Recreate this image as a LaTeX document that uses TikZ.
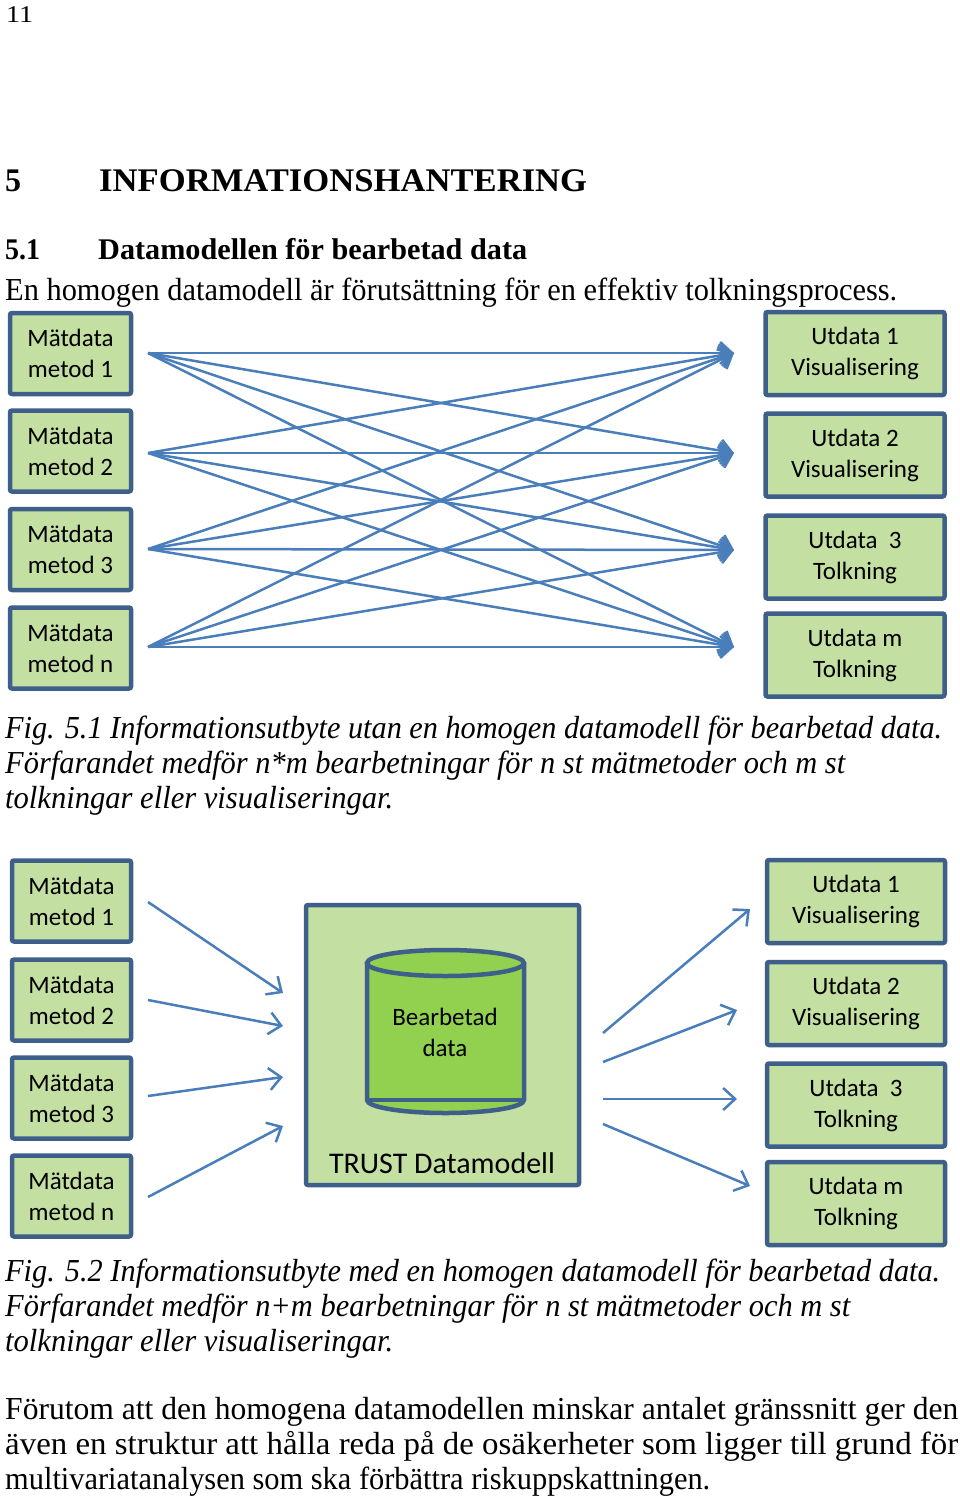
\documentclass[tikz,border=0pt]{standalone}
\usepackage{fontspec}
\usepackage{graphicx}
\setmainfont{Liberation Serif}
\newfontfamily\carlito{Carlito}
\usetikzlibrary{arrows.meta}

\definecolor{boxline}{HTML}{3E5F8A}
\definecolor{boxfill}{HTML}{C4DFA2}
\definecolor{dbfill}{HTML}{92D050}
\definecolor{arrowblue}{HTML}{4A7EBB}

% stretch a line of text to a given width, keep its height
\newcommand{\fitline}[2]{\resizebox{#1pt}{\height}{#2}}

\tikzset{
  box/.style={draw=boxline, line width=4.5pt, fill=boxfill, rounded corners=2pt,
    align=center, inner sep=0pt, font=\carlito\fontsize{25}{31}\selectfont},
  inbox/.style={box, minimum width=121pt, minimum height=81pt},
  outbox/.style={box, minimum width=179pt, minimum height=83pt},
  flow/.style={draw=arrowblue, line width=2.5pt,
    -{Straight Barb[length=12pt,width=22pt,line width=2.5pt]}},
  txt/.style={anchor=base west, inner sep=0pt, font=\fontsize{32}{32}\selectfont}
}

\begin{document}
\begin{tikzpicture}[x=1pt,y=-1pt]
        \useasboundingbox (0,0) rectangle (960,1498);

        % page head and section titles
        \node[txt, font=\fontsize{24}{24}\selectfont] (pagenr) at (6,23) {\fitline{27}{11}};
        \node[txt, font=\bfseries\fontsize{33}{33}\selectfont] (secnr) at (5,192) {\fitline{16}{5}};
        \node[txt, font=\bfseries\fontsize{33}{33}\selectfont] (sectitle) at (99,192) {\fitline{488}{INFORMATIONSHANTERING}};
        \node[txt, font=\bfseries\fontsize{30}{30}\selectfont] (subnr) at (5,259) {\fitline{35}{5.1}};
        \node[txt, font=\bfseries\fontsize{30}{30}\selectfont] (subtitle) at (98,259) {\fitline{429}{Datamodellen för bearbetad data}};
        \node[txt] (intro) at (5,300) {\fitline{892}{En homogen datamodell är förutsättning för en effektiv tolkningsprocess.}};

        % figure 5.1
        \node[inbox] (m1) at (70.5,353.5) {Mätdata\\metod 1};
        \node[inbox] (m2) at (70.5,451) {Mätdata\\metod 2};
        \node[inbox] (m3) at (70.5,549.5) {Mätdata\\metod 3};
        \node[inbox] (m4) at (70.5,648) {Mätdata\\metod n};

        \node[outbox] (u1) at (855,353.5) {Utdata 1\\Visualisering};
        \node[outbox] (u2) at (855,455) {Utdata 2\\Visualisering};
        \node[outbox] (u3) at (855,557) {Utdata\ \ 3\\Tolkning};
        \node[outbox] (u4) at (855,655) {Utdata m\\Tolkning};

        \coordinate (s1) at (148,353);
        \coordinate (s2) at (148,453);
        \coordinate (s3) at (148,549);
        \coordinate (s4) at (148,647);
        \coordinate (t1) at (734,353);
        \coordinate (t2) at (734,453);
        \coordinate (t3) at (734,550);
        \coordinate (t4) at (734,647);

        \foreach \i in {1,...,4}
          \foreach \j in {1,...,4}
            \draw[flow] (s\i) -- (t\j);

        \node[txt] (capa1) at (5,738) {\fitline{937}{\itshape Fig. 5.1 Informationsutbyte utan en homogen datamodell för bearbetad data.}};
        \node[txt] (capa2) at (5,773) {\fitline{840}{\itshape Förfarandet medför n*m bearbetningar för n st mätmetoder och m st}};
        \node[txt] (capa3) at (5,808) {\fitline{388}{\itshape tolkningar eller visualiseringar.}};

        % figure 5.2
        \node[inbox, minimum width=119pt] (n1) at (71.5,901) {Mätdata\\metod 1};
        \node[inbox, minimum width=119pt] (n2) at (71.5,1000) {Mätdata\\metod 2};
        \node[inbox, minimum width=119pt] (n3) at (71.5,1098) {Mätdata\\metod 3};
        \node[inbox, minimum width=119pt] (n4) at (71.5,1196) {Mätdata\\metod n};

        \node[outbox, minimum width=178pt] (v1) at (856,901.5) {Utdata 1\\Visualisering};
        \node[outbox, minimum width=178pt] (v2) at (856,1003.5) {Utdata 2\\Visualisering};
        \node[outbox, minimum width=178pt] (v3) at (856,1105) {Utdata\ \ 3\\Tolkning};
        \node[outbox, minimum width=178pt] (v4) at (856,1203.5) {Utdata m\\Tolkning};

        \node[box, minimum width=273pt, minimum height=280pt] (trust) at (442.5,1045) {};
        \node[font=\carlito\fontsize{30}{30}\selectfont] (trustlabel) at (442,1163) {TRUST Datamodell};

        % cylinder
        \fill[dbfill] (367,963) -- (367,1100) arc[start angle=180, end angle=0, x radius=78.5, y radius=13] -- (524,963) -- cycle;
        \draw[boxline, line width=4.5pt] (367,963) -- (367,1100) arc[start angle=180, end angle=0, x radius=78.5, y radius=13] -- (524,963);
        \draw[boxline, line width=4.5pt] (367,1100) -- (524,1100);
        \draw[boxline, line width=4.5pt, fill=dbfill] (445.5,963) ellipse[x radius=78.5, y radius=13];
        \node[align=center, font=\carlito\fontsize{25}{31}\selectfont] (db) at (445,1032.5) {Bearbetad\\data};

        \coordinate (a1) at (148,902);
        \coordinate (a2) at (148,1000);
        \coordinate (a3) at (148,1096);
        \coordinate (a4) at (148,1197);
        \coordinate (b1) at (283,993);
        \coordinate (b2) at (283,1026);
        \coordinate (b3) at (283,1077);
        \coordinate (b4) at (283,1126);
        \coordinate (c1) at (603,1033);
        \coordinate (c2) at (603,1062);
        \coordinate (c3) at (603,1099);
        \coordinate (c4) at (603,1124);
        \coordinate (d1) at (750,909);
        \coordinate (d2) at (737,1010);
        \coordinate (d3) at (737,1099);
        \coordinate (d4) at (750,1186);

        \foreach \k in {1,...,4} {
          \draw[flow] (a\k) -- (b\k);
          \draw[flow] (c\k) -- (d\k);
        }

        \node[txt] (capb1) at (5,1281) {\fitline{935}{\itshape Fig. 5.2 Informationsutbyte med en homogen datamodell för bearbetad data.}};
        \node[txt] (capb2) at (5,1316) {\fitline{845}{\itshape Förfarandet medför n+m bearbetningar för n st mätmetoder och m st}};
        \node[txt] (capb3) at (5,1351) {\fitline{388}{\itshape tolkningar eller visualiseringar.}};

        % closing paragraph
        \node[txt] (para1) at (5,1419) {\fitline{953}{Förutom att den homogena datamodellen minskar antalet gränssnitt ger den}};
        \node[txt] (para2) at (5,1454) {\fitline{953}{även en struktur att hålla reda på de osäkerheter som ligger till grund för}};
        \node[txt] (para3) at (5,1489) {\fitline{705}{multivariatanalysen som ska förbättra riskuppskattningen.}};

    \end{tikzpicture}
\end{document}
